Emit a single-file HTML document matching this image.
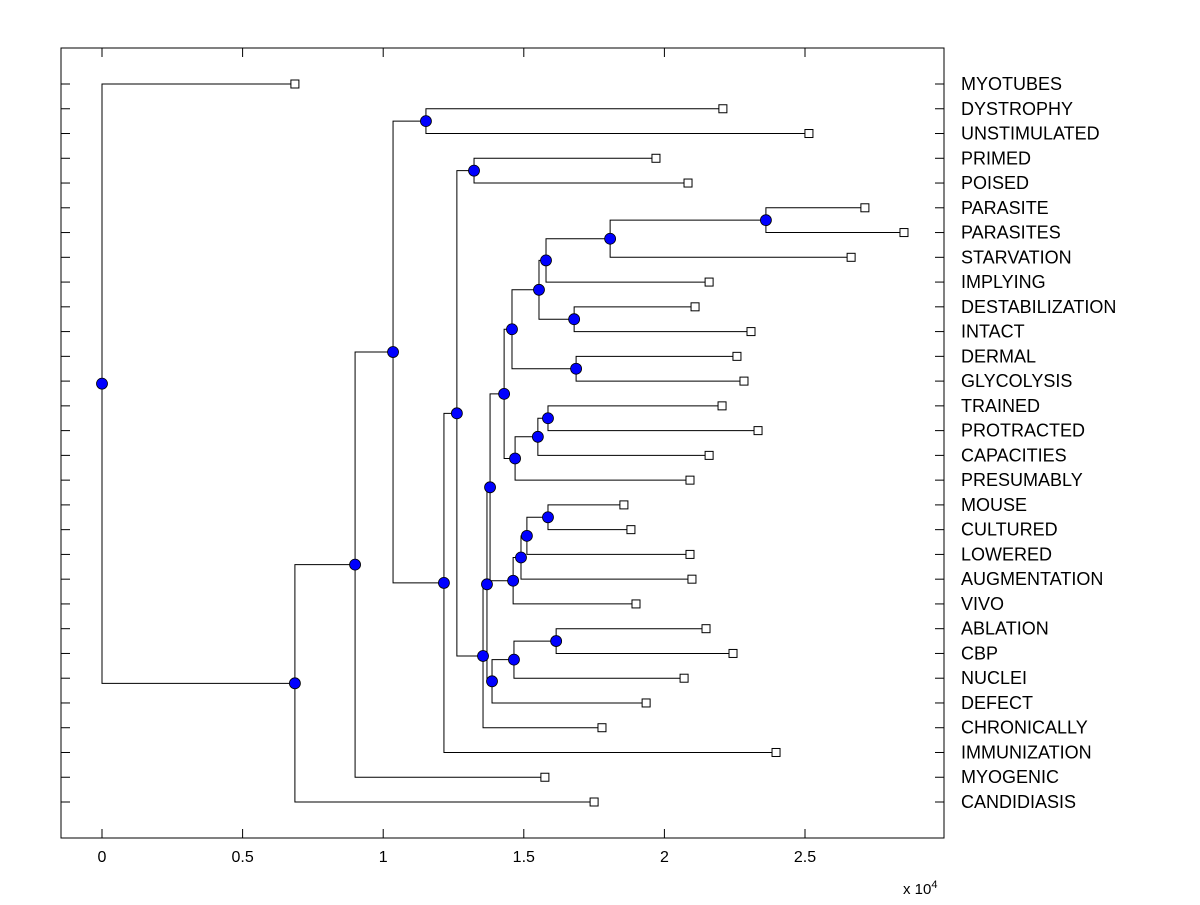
<!DOCTYPE html>
<html><head><meta charset="utf-8"><style>
body{margin:0;background:#fff;}
svg text{font-family:"Liberation Sans",Arial,sans-serif;}
</style></head><body>
<svg id="chart" width="1200" height="900" xmlns="http://www.w3.org/2000/svg">
<rect width="1200" height="900" fill="#fff"/>
<g id="plot"></g>
</svg>
<script>
const leafNames=["MYOTUBES","DYSTROPHY","UNSTIMULATED","PRIMED","POISED","PARASITE","PARASITES","STARVATION","IMPLYING","DESTABILIZATION","INTACT","DERMAL","GLYCOLYSIS","TRAINED","PROTRACTED","CAPACITIES","PRESUMABLY","MOUSE","CULTURED","LOWERED","AUGMENTATION","VIVO","ABLATION","CBP","NUCLEI","DEFECT","CHRONICALLY","IMMUNIZATION","MYOGENIC","CANDIDIASIS"];
const leafValues=[0.686,2.208,2.514,1.970,2.084,2.713,2.852,2.664,2.159,2.109,2.308,2.258,2.283,2.205,2.333,2.159,2.091,1.856,1.881,2.091,2.098,1.899,2.148,2.244,2.070,1.935,1.778,2.397,1.575,1.750];
// merges: children are leaf index (number) or "nK" internal node
const mergeLeft=[5,"n0","n1",9,"n2",11,"n4",13,"n7","n8","n6",17,"n11","n12","n13","n10",22,"n16","n17","n15","n19",3,"n21","n22",1,"n24","n25","n26",0];
const mergeRight=[6,7,8,10,"n3",12,"n5",14,15,16,"n9",18,19,20,21,"n14",23,24,25,"n18",26,4,"n20",27,2,"n23",28,29,"n27"];
const mergeHeights=[2.361,1.807,1.579,1.679,1.554,1.686,1.458,1.586,1.550,1.469,1.430,1.586,1.511,1.490,1.462,1.380,1.615,1.465,1.387,1.369,1.355,1.323,1.262,1.216,1.152,1.035,0.900,0.686,0];
const xTicks=[0,0.5,1,1.5,2,2.5];
const xTickLabels=["0","0.5","1","1.5","2","2.5"];

const NS="http://www.w3.org/2000/svg";
const g=document.getElementById('plot');
const L=61,R=944,T=48,B=838;
const xS=v=>102+v*281.2;
const yS=i=>84+i*(802-84)/29;
function mk(tag,attrs,parent){const e=document.createElementNS(NS,tag);for(const k in attrs)e.setAttribute(k,attrs[k]);(parent||g).appendChild(e);return e;}
const box=mk('rect',{x:L,y:T,width:R-L,height:B-T,fill:'none',stroke:'#000','stroke-width':1});


xTicks.forEach((t,i)=>{
  const x=xS(t);
  mk('line',{x1:x,y1:B,x2:x,y2:B-9,stroke:'#000'});
  mk('line',{x1:x,y1:T,x2:x,y2:T+9,stroke:'#000'});
  const tx=mk('text',{x:x,y:B+24,'text-anchor':'middle','font-size':16,fill:'#000'});
  tx.textContent=xTickLabels[i];
  
  
});
const ex=mk('text',{x:903,y:894,'font-size':15,fill:'#000'});
ex.innerHTML='x 10<tspan dy="-6" font-size="11">4</tspan>';


leafNames.forEach((n,i)=>{
  const y=yS(i);
  mk('line',{x1:L,y1:y,x2:L+9,y2:y,stroke:'#000'});
  mk('line',{x1:R,y1:y,x2:R-9,y2:y,stroke:'#000'});
  const tx=mk('text',{x:961,y:y+6,'font-size':18,fill:'#000'});
  tx.textContent=n;
  
  
});
const pos={};
leafNames.forEach((n,i)=>{pos[i]={x:xS(leafValues[i]),y:yS(i)};});
const lines=mk('g',{}),marks=mk('g',{});
mergeHeights.forEach((h,k)=>{
  const a=pos[mergeLeft[k]],b=pos[mergeRight[k]];
  const x=xS(h);
  const p={x:x,y:(a.y+b.y)/2};
  pos['n'+k]=p;
  const path=mk('path',{d:`M${a.x},${a.y}H${x}V${b.y}H${b.x}`,fill:'none',stroke:'#000','stroke-width':1},lines);
  
  
  const c=mk('circle',{cx:x,cy:p.y,r:5.5,fill:'#0000ff',stroke:'#000','stroke-width':0.8},marks);
  
  
});
leafNames.forEach((n,i)=>{
  const r=mk('rect',{x:pos[i].x-4,y:pos[i].y-4,width:8,height:8,fill:'#fff',stroke:'#000','stroke-width':1},marks);
  
  
});
</script>
</body></html>
